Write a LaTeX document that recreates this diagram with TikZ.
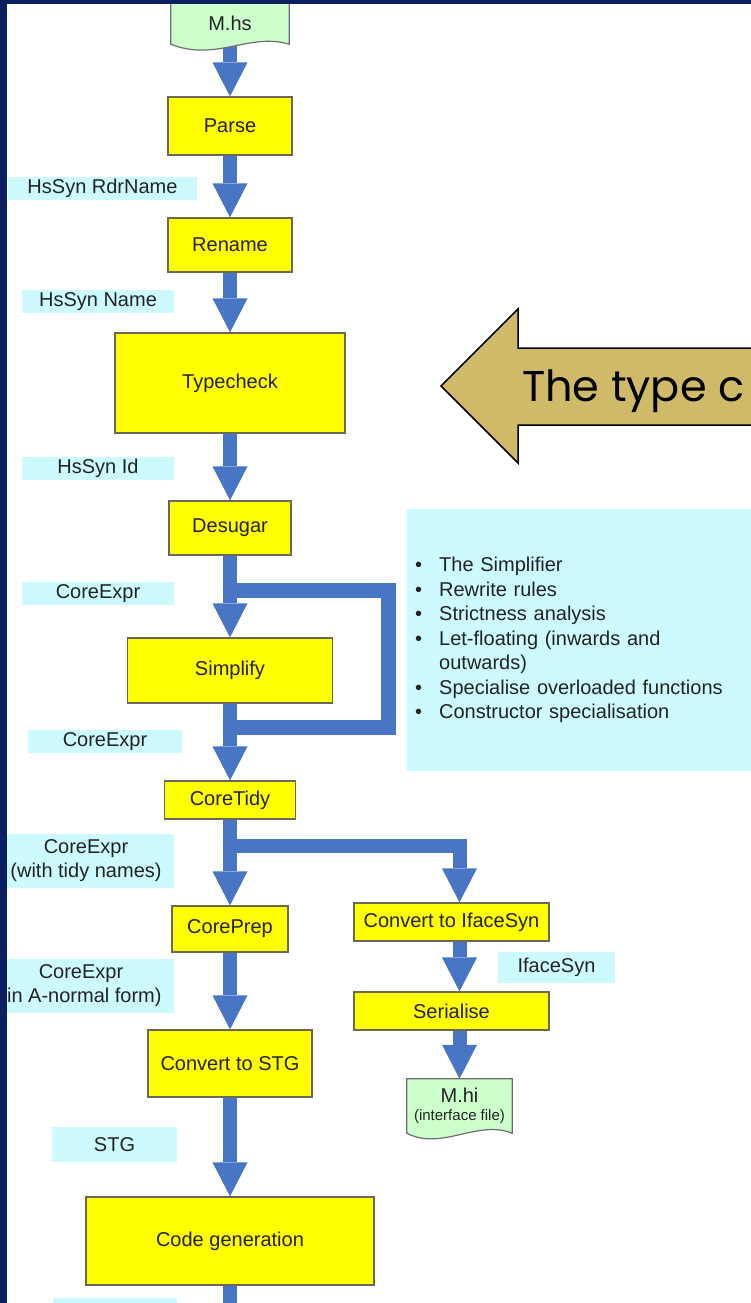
\documentclass[tikz,border=0pt]{standalone}
\usepackage{fontspec}
\setmainfont{Liberation Sans}
\newfontfamily\casualfont{Poppins}
\usetikzlibrary{arrows.meta,calc}

\definecolor{navy}{RGB}{12,32,96}
\definecolor{flowblue}{RGB}{72,118,196}
\definecolor{stageyellow}{RGB}{255,255,0}
\definecolor{stageedge}{RGB}{105,105,85}
\definecolor{tagcyan}{RGB}{204,250,255}
\definecolor{docgreen}{RGB}{204,255,204}
\definecolor{docedge}{RGB}{110,110,110}
\definecolor{tan}{RGB}{206,186,104}
\definecolor{ink}{RGB}{35,35,35}

\pgfdeclarelayer{backdrop}
\pgfdeclarelayer{pipes}
\pgfsetlayers{backdrop,pipes,main}

\tikzset{
  stage/.style={draw=stageedge, line width=1.2pt, fill=stageyellow, text=ink,
    font=\fontsize{20pt}{24pt}\selectfont, inner sep=0pt, align=center},
  tag/.style={fill=tagcyan, text=ink, font=\fontsize{20pt}{24pt}\selectfont,
    inner sep=0pt, align=center},
  docnode/.style={inner sep=0pt, text=ink, font=\fontsize{20pt}{22pt}\selectfont, align=center},
  docoutline/.style={draw=docedge, line width=1.2pt, fill=docgreen},
  flow/.style={draw=flowblue, line width=14pt,
    -{Triangle[width=35pt,length=34pt,line width=0pt]}},
  pipe/.style={draw=flowblue, line width=14pt},
  loopline/.style={draw=flowblue, line width=15pt, line join=miter},
}

\begin{document}
\begin{tikzpicture}[x=1pt,y=-1pt]
\useasboundingbox (0,0) rectangle (751,1303);

\begin{pgfonlayer}{backdrop}
  \fill[white] (0,0) rectangle (751,1303);
\end{pgfonlayer}

% source and interface files
\node[docnode, minimum width=118pt, minimum height=42pt] (mhs) at (230,23) {M.hs};
\node[docnode, minimum width=105pt, minimum height=54pt] (mhi) at (459.5,1106)
  {M.hi\\[-4pt]{\fontsize{15pt}{16pt}\selectfont(interface file)}};

% compiler stages
\node[stage, minimum width=124pt, minimum height=58pt]  (parse)     at (230,126)    {Parse};
\node[stage, minimum width=124pt, minimum height=54pt]  (rename)    at (230,245)    {Rename};
\node[stage, minimum width=230pt, minimum height=100pt] (typecheck) at (230,383)    {Typecheck};
\node[stage, minimum width=122pt, minimum height=54pt]  (desugar)   at (230,528)    {Desugar};
\node[stage, minimum width=205pt, minimum height=65pt]  (simplify)  at (230,670.5)  {Simplify};
\node[stage, minimum width=131pt, minimum height=38pt]  (coretidy)  at (230,800)    {CoreTidy};
\node[stage, minimum width=116pt, minimum height=46pt]  (coreprep)  at (230,929)    {CorePrep};
\node[stage, minimum width=164pt, minimum height=67pt]  (convstg)   at (230,1063.5) {Convert to STG};
\node[stage, minimum width=288pt, minimum height=88pt]  (codegen)   at (230,1241)   {Code generation};
\node[stage, minimum width=195pt, minimum height=38pt]  (conviface) at (451.5,922)  {Convert to IfaceSyn};
\node[stage, minimum width=195pt, minimum height=38pt]  (serialise) at (451.5,1011) {Serialise};

% intermediate representations
\node[tag, minimum width=189pt, minimum height=23pt] (lRdr)   at (102.5,188.5) {HsSyn RdrName};
\node[tag, minimum width=152pt, minimum height=23pt] (lName)  at (98,301.5)    {HsSyn Name};
\node[tag, minimum width=152pt, minimum height=23pt] (lId)    at (98,468.5)    {HsSyn Id};
\node[tag, minimum width=152pt, minimum height=23pt] (lCoreA) at (98,593.5)    {CoreExpr};
\node[tag, minimum width=154pt, minimum height=23pt] (lCoreB) at (105,741.5)   {CoreExpr};
\node[tag, minimum width=176pt, minimum height=54pt] (lTidy)  at (86,861)      {CoreExpr\\(with tidy names)};
\node[tag, minimum width=186pt, minimum height=54pt] (lANF)   at (81,986)      {CoreExpr\\(in A-normal form)};
\node[tag, minimum width=117pt, minimum height=31pt] (lIface) at (556.5,967.5) {IfaceSyn};
\node[tag, minimum width=125pt, minimum height=35pt] (lSTG)   at (114.5,1144.5) {STG};
\node[tag, minimum width=124pt, minimum height=24pt] (lNext)  at (115,1310)    {};

% simplifier notes
\node[tag, anchor=north west, minimum height=262pt, text width=344pt, inner xsep=8pt,
      align=left, font=\fontsize{20pt}{24.5pt}\selectfont] (notes) at (407,509)
  {\makebox[24pt][l]{\textbullet}The Simplifier\\
   \makebox[24pt][l]{\textbullet}Rewrite rules\\
   \makebox[24pt][l]{\textbullet}Strictness analysis\\
   \makebox[24pt][l]{\textbullet}Let-floating (inwards and\\
   \hspace*{24pt}outwards)\\
   \makebox[24pt][l]{\textbullet}Specialise overloaded functions\\
   \makebox[24pt][l]{\textbullet}Constructor specialisation};

% callout arrow pointing at the type checker
\draw[fill=tan, draw=black, line width=1.5pt, line join=miter]
  (441,386) -- (518,309) -- (518,348) -- (780,348) -- (780,425)
  -- (518,425) -- (518,463) -- cycle;
\node[anchor=base west, inner sep=0pt, text=black,
      font=\casualfont\fontsize{43pt}{48pt}\selectfont] (callout) at (522,401) {The type c};

\begin{pgfonlayer}{pipes}
  % main pipeline
  \draw[flow] (mhs.south)      -- (parse.north);
  \draw[flow] (parse.south)    -- (rename.north);
  \draw[flow] (rename.south)   -- (typecheck.north);
  \draw[flow] (typecheck.south)-- (desugar.north);
  \draw[flow] (desugar.south)  -- (simplify.north);
  \draw[flow] (simplify.south) -- (coretidy.north);
  \draw[flow] (coretidy.south) -- (coreprep.north);
  \draw[flow] (coreprep.south) -- (convstg.north);
  \draw[flow] (convstg.south)  -- (codegen.north);
  \coordinate (exit) at (230,1320);
  \draw[pipe] (codegen.south) -- (exit);

  % simplifier iteration loop
  \coordinate (loopTop)  at ($(desugar.south)+(0,35)$);
  \coordinate (loopBot)  at ($(simplify.south)+(0,24)$);
  \coordinate (loopSide) at (388,650);
  \draw[loopline] (loopTop) -- (loopTop -| loopSide) -- (loopBot -| loopSide) -- (loopBot);

  % interface file branch
  \coordinate (branch) at ($(coretidy.south)+(0,26)$);
  \draw[flow, line join=miter] (branch) -| (conviface.north -| mhi.north);
  \draw[flow] (conviface.south -| mhi.north) -- (serialise.north -| mhi.north);
  \draw[flow] (serialise.south -| mhi.north) -- (mhi.north);

  % file outlines with wavy lower edge
  \draw[docoutline] (mhs.north west) -- (mhs.south west)
    .. controls +(45,18) and +(-40,-12) .. (mhs.south east) -- (mhs.north east) -- cycle;
  \draw[docoutline] (mhi.north west) -- (mhi.south west)
    .. controls +(35,18) and +(-35,-14) .. (mhi.south east) -- (mhi.north east) -- cycle;
\end{pgfonlayer}

% slide frame
\fill[navy] (0,0) rectangle (6.5,1303);
\fill[navy] (0,0) rectangle (751,4);
\end{tikzpicture}
\end{document}
